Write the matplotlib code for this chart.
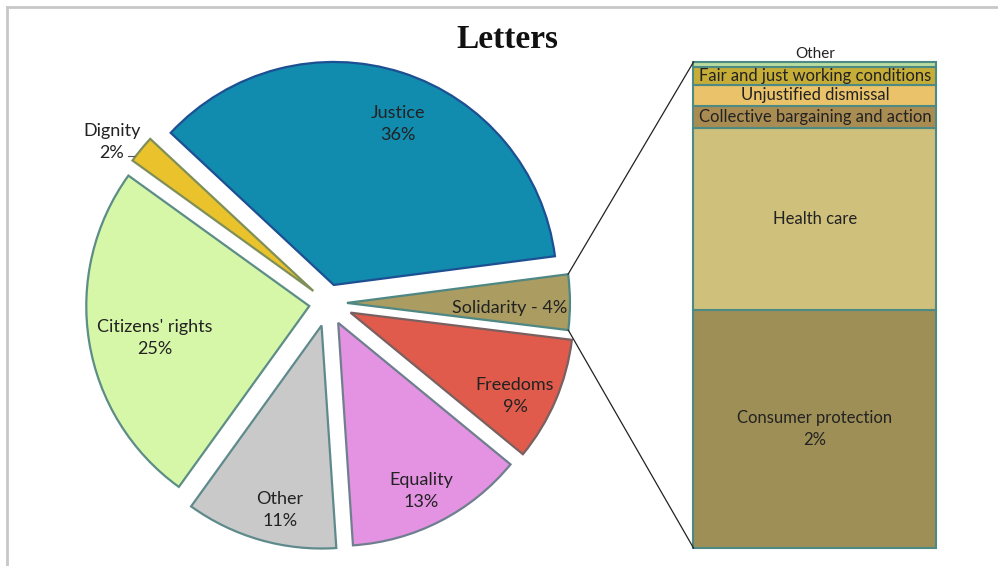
import numpy as np
import matplotlib
matplotlib.use("Agg")
import matplotlib.pyplot as plt

# main pie, counter-clockwise from the Solidarity slice
pie_labels = ["Solidarity", "Justice", "Dignity", "Citizens' rights", "Other", "Equality", "Freedoms"]
pie_values = [4, 36, 2, 25, 11, 13, 9]
pie_colors = ["#ab9c62", "#118bae", "#e9c22c", "#d6f6a8", "#c9c9c9", "#e493e2", "#e05b4b"]
pie_edges = ["#4e8783", "#1d4f93", "#7f8f5a", "#5c8d86", "#5f8a8c", "#6f7f8f", "#7a6060"]
explode_frac = [0.085, 0.085, 0.085, 0.085, 0.105, 0.10, 0.11]

# breakdown of Solidarity (bottom to top)
bar_labels = ["Consumer protection", "Health care", "Collective bargaining and action",
              "Unjustified dismissal", "Fair and just working conditions", "Other"]
bar_values = [1.96, 1.50, 0.18, 0.17, 0.15, 0.04]
bar_colors = ["#9e8f57", "#cfc07b", "#a98c52", "#e9c26a", "#c5ad38", "#b9dca0"]

H = 566
font = "Lato"
R = 223

fig = plt.figure(figsize=(9.98, 5.66), dpi=100)
ax = fig.add_axes([0, 0, 1, 1])

# frame lines (top and left only)
ax.plot([7, 998], [H - 7, H - 7], color="#c8c8c8", lw=2)
ax.plot([7, 7], [H - 7, 0], color="#c8c8c8", lw=2)

# pie explode is in data units, so scale by radius
wedges, _ = ax.pie(pie_values, colors=pie_colors, explode=[e * R for e in explode_frac],
                   startangle=-7.0, counterclock=True, center=(328, H - 303),
                   radius=R, frame=True)
for w, ec in zip(wedges, pie_edges):
    w.set_edgecolor(ec)
    w.set_linewidth(1.6)
ax.set_xlim(0, 998)
ax.set_ylim(0, H)
ax.set_aspect("equal")
ax.axis("off")

# stacked bar
bar_x, bar_w, bar_bottom, bar_h = 815, 243, H - 548, 486
scale = bar_h / sum(bar_values)
bottom = bar_bottom
rects = []
for v, c in zip(bar_values, bar_colors):
    r = ax.bar(bar_x, v * scale, width=bar_w, bottom=bottom, color=c,
               edgecolor="#4e8a84", linewidth=1.5)[0]
    rects.append(r)
    bottom += v * scale

# connector lines from the Solidarity slice to the bar
sol = wedges[0]
cx, cy = sol.center
t1, t2 = np.radians(sol.theta1), np.radians(sol.theta2)
left = bar_x - bar_w / 2
ax.plot([cx + sol.r * np.cos(t2), left], [cy + sol.r * np.sin(t2), bar_bottom + bar_h],
        color="#222222", lw=0.9)
ax.plot([cx + sol.r * np.cos(t1), left], [cy + sol.r * np.sin(t1), bar_bottom],
        color="#222222", lw=0.9)

# title
ax.text(507, H - 40, "Letters", ha="center", va="center", fontsize=24,
        fontweight="bold", family="Liberation Serif", color="#111111")

txt = dict(ha="center", va="center", family=font, color="#222222", fontsize=13,
           linespacing=1.4)
ax.text(398, H - 124, "Justice\n36%", **txt)
ax.text(112, H - 142, "Dignity\n2%", **txt)
ax.plot([128, 134], [H - 156, H - 156], color="#555555", lw=0.8)
ax.text(155, H - 338, "Citizens' rights\n25%", **txt)
ax.text(280, H - 510, "Other\n11%", **txt)
ax.text(421, H - 491, "Equality\n13%", **txt)
ax.text(515, H - 396, "Freedoms\n9%", **txt)
ax.text(510, H - 308, "Solidarity - 4%", **txt)

btxt = dict(ha="center", va="center", family=font, color="#222222", fontsize=12)
for r, lab in zip(rects[1:5], bar_labels[1:5]):
    ax.text(bar_x, r.get_y() + r.get_height() / 2, lab, **btxt)
ax.text(bar_x, rects[0].get_y() + rects[0].get_height() / 2,
        bar_labels[0] + "\n2%", linespacing=1.4, **btxt)
ax.text(bar_x, rects[5].get_y() + rects[5].get_height() + 8, bar_labels[5],
        ha="center", va="center", family=font, color="#222222", fontsize=11)

fig.savefig("out.png", dpi=100, facecolor="white")
